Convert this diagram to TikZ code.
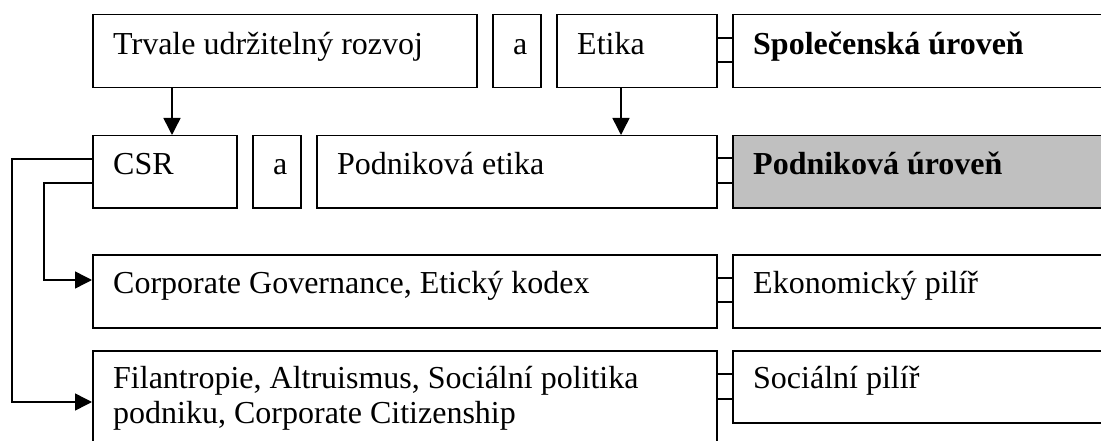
\documentclass[tikz,border=0pt]{standalone}
\usepackage{fontspec}
\setmainfont{Liberation Serif}
\usetikzlibrary{calc,arrows.meta}
\definecolor{levelgray}{RGB}{192,192,192}
\begin{document}
\begin{tikzpicture}[x=1pt,y=-1pt,
  box/.style={draw=black,line width=1.5pt,rectangle,inner sep=0pt,anchor=north west},
  lbl/.style={inner sep=0pt,anchor=base west,font=\fontsize{32}{35}\selectfont},
  blbl/.style={lbl,font=\fontsize{32}{35}\selectfont\bfseries},
  arr/.style={line width=1.5pt,-{Triangle[length=17pt,width=17pt]}},
  conn/.style={line width=1.5pt}]
\useasboundingbox (0,0) rectangle (1101,441);
\clip (0,0) rectangle (1101,441);
% row 1
\node[box,minimum width=384pt,minimum height=73pt] (trv) at (92,14) {};
\node[box,minimum width=48pt,minimum height=73pt] (a1) at (492,14) {};
\node[box,minimum width=160pt,minimum height=73pt] (eti) at (556,14) {};
\node[box,minimum width=400pt,minimum height=73pt] (spol) at (732,14) {};
% row 2
\node[box,minimum width=144pt,minimum height=72pt] (csr) at (92,135) {};
\node[box,minimum width=48pt,minimum height=72pt] (a2) at (252,135) {};
\node[box,minimum width=400pt,minimum height=72pt] (pet) at (316,135) {};
\node[box,fill=levelgray,minimum width=400pt,minimum height=72pt] (pu) at (732,135) {};
% row 3
\node[box,minimum width=624pt,minimum height=73pt] (cg) at (92,254) {};
\node[box,minimum width=400pt,minimum height=73pt] (ek) at (732,254) {};
% row 4
\node[box,minimum width=624pt,minimum height=120pt] (fil) at (92,350) {};
\node[box,minimum width=400pt,minimum height=72pt] (soc) at (732,350) {};
% labels
\node[lbl] (ttrv) at ($(trv.north west)+(21,41)$) {Trvale udržitelný rozvoj};
\node[lbl] (ta1) at ($(a1.north west)+(21,41)$) {a};
\node[lbl] (teti) at ($(eti.north west)+(21,41)$) {Etika};
\node[blbl] (tspol) at ($(spol.north west)+(21,41)$) {Společenská úroveň};
\node[lbl] (tcsr) at ($(csr.north west)+(21,40)$) {CSR};
\node[lbl] (ta2) at ($(a2.north west)+(21,40)$) {a};
\node[lbl] (tpet) at ($(pet.north west)+(21,40)$) {Podniková etika};
\node[blbl] (tpu) at ($(pu.north west)+(21,40)$) {Podniková úroveň};
\node[lbl] (tcg) at ($(cg.north west)+(21,39)$) {Corporate Governance, Etický kodex};
\node[lbl] (tek) at ($(ek.north west)+(21,39)$) {Ekonomický pilíř};
\node[lbl] (tfil1) at ($(fil.north west)+(21,38)$) {Filantropie, Altruismus, Sociální politika};
\node[lbl] (tfil2) at ($(fil.north west)+(21,73)$) {podniku, Corporate Citizenship};
\node[lbl] (tsoc) at ($(soc.north west)+(21,38)$) {Sociální pilíř};
% vertical arrows
\coordinate (trvout) at ($(trv.south west)+(80,0)$);
\draw[arr] (trvout) -- (trvout |- csr.north);
\coordinate (etiout) at ($(eti.south west)+(65,0)$);
\draw[arr] (etiout) -- (etiout |- pet.north);
% left connectors
\coordinate (o1) at ($(csr.north west)+(0,24)$);
\coordinate (o2) at ($(csr.north west)+(0,48)$);
\coordinate (f1) at ($(fil.north west)+(0,52)$);
\coordinate (c1) at ($(cg.north west)+(0,26)$);
\draw[arr] (o1) -- (12,0 |- o1) -- (12,0 |- f1) -- (f1);
\draw[arr] (o2) -- (44,0 |- o2) -- (44,0 |- c1) -- (c1);
% ticks
\foreach \l/\r/\da/\db in {eti/spol/24/48, pet/pu/23/48, cg/ek/24/48, fil/soc/24/49}{
  \draw[conn] ($(\l.north east)+(0,\da)$) -- ($(\r.north west)+(0,\da)$);
  \draw[conn] ($(\l.north east)+(0,\db)$) -- ($(\r.north west)+(0,\db)$);
}
\end{tikzpicture}
\end{document}
